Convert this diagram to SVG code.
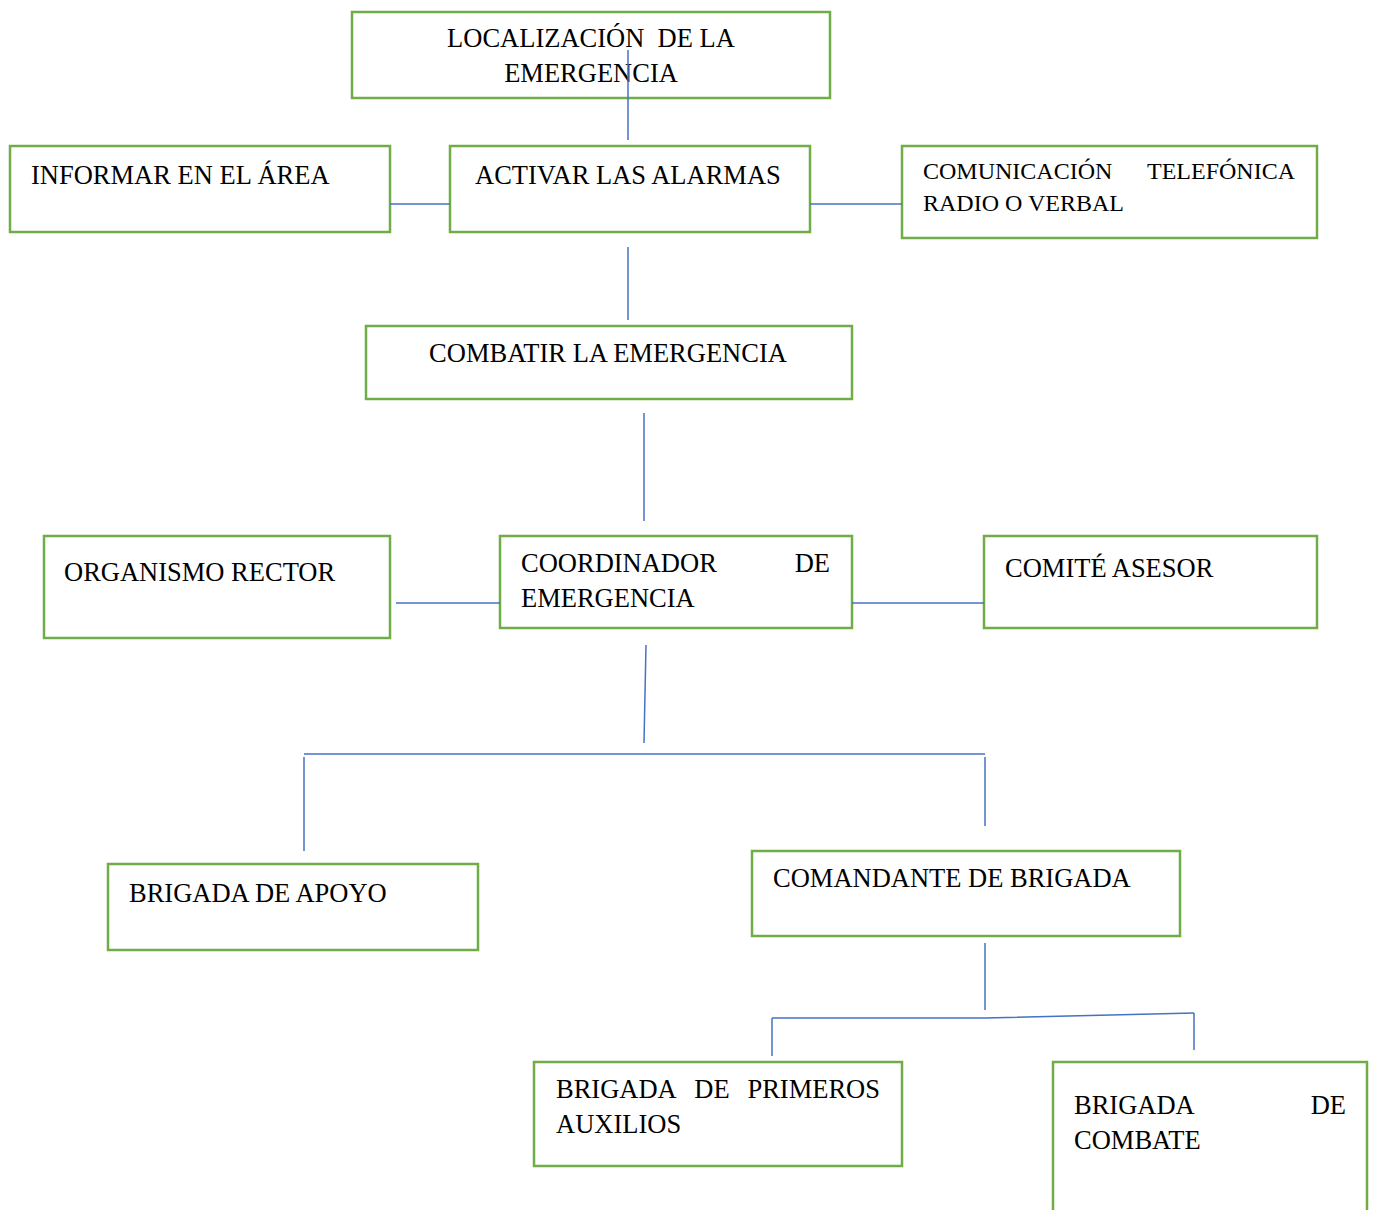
<svg xmlns="http://www.w3.org/2000/svg" width="1378" height="1210" viewBox="0 0 1378 1210">
  <style>
    .box { fill: #ffffff; stroke: #70AD47; stroke-width: 2.5; }
    .lbl { font-family: "Liberation Serif", "Times New Roman", serif; font-size: 26.5px; fill: #000000; }
    .sm { font-size: 24px; }
    .ln { stroke: #4472C4; stroke-width: 1.5; fill: none; }
  </style>
  <rect width="1378" height="1210" fill="#ffffff"/>

  <g id="n-localizacion">
    <rect class="box" x="352" y="12" width="478" height="86"/>
    <text class="lbl" x="591" y="47" text-anchor="middle" xml:space="preserve">LOCALIZACIÓN  DE LA</text>
    <text class="lbl" x="591" y="82" text-anchor="middle">EMERGENCIA</text>
  </g>

  <g id="n-informar">
    <rect class="box" x="10" y="146" width="380" height="86"/>
    <text class="lbl" x="31" y="184">INFORMAR EN EL ÁREA</text>
  </g>

  <g id="n-activar">
    <rect class="box" x="450" y="146" width="360" height="86"/>
    <text class="lbl" x="475" y="184">ACTIVAR LAS ALARMAS</text>
  </g>

  <g id="n-comunicacion">
    <rect class="box" x="902" y="146" width="415" height="92"/>
    <text class="lbl sm" x="923" y="179">COMUNICACIÓN</text>
    <text class="lbl sm" x="1295" y="179" text-anchor="end">TELEFÓNICA</text>
    <text class="lbl sm" x="923" y="211">RADIO O VERBAL</text>
  </g>

  <g id="n-combatir">
    <rect class="box" x="366" y="326" width="486" height="73"/>
    <text class="lbl" x="608" y="362" text-anchor="middle">COMBATIR LA EMERGENCIA</text>
  </g>

  <g id="n-organismo">
    <rect class="box" x="44" y="536" width="346" height="102"/>
    <text class="lbl" x="64" y="581">ORGANISMO RECTOR</text>
  </g>

  <g id="n-coordinador">
    <rect class="box" x="500" y="536" width="352" height="92"/>
    <text class="lbl" x="521" y="572">COORDINADOR</text>
    <text class="lbl" x="830" y="572" text-anchor="end">DE</text>
    <text class="lbl" x="521" y="607">EMERGENCIA</text>
  </g>

  <g id="n-comite">
    <rect class="box" x="984" y="536" width="333" height="92"/>
    <text class="lbl" x="1005" y="577">COMITÉ ASESOR</text>
  </g>

  <g id="n-apoyo">
    <rect class="box" x="108" y="864" width="370" height="86"/>
    <text class="lbl" x="129" y="902">BRIGADA DE APOYO</text>
  </g>

  <g id="n-comandante">
    <rect class="box" x="752" y="851" width="428" height="85"/>
    <text class="lbl" x="773" y="887">COMANDANTE DE BRIGADA</text>
  </g>

  <g id="n-primeros-auxilios">
    <rect class="box" x="534" y="1062" width="368" height="104"/>
    <text class="lbl" x="556" y="1098">BRIGADA</text>
    <text class="lbl" x="712" y="1098" text-anchor="middle">DE</text>
    <text class="lbl" x="880" y="1098" text-anchor="end">PRIMEROS</text>
    <text class="lbl" x="556" y="1133">AUXILIOS</text>
  </g>

  <g id="n-combate">
    <rect class="box" x="1053" y="1062" width="314" height="160"/>
    <text class="lbl" x="1074" y="1114">BRIGADA</text>
    <text class="lbl" x="1346" y="1114" text-anchor="end">DE</text>
    <text class="lbl" x="1074" y="1149">COMBATE</text>
  </g>

  <g id="connectors">
    <line class="ln" x1="628" y1="50" x2="628" y2="140"/>
    <line class="ln" x1="390" y1="204" x2="450" y2="204"/>
    <line class="ln" x1="810" y1="204" x2="902" y2="204"/>
    <line class="ln" x1="628" y1="247" x2="628" y2="320"/>
    <line class="ln" x1="644" y1="413" x2="644" y2="521"/>
    <line class="ln" x1="396" y1="603" x2="500" y2="603"/>
    <line class="ln" x1="852" y1="603" x2="984" y2="603"/>
    <line class="ln" x1="646" y1="645" x2="644" y2="743"/>
    <line class="ln" x1="304" y1="754" x2="985" y2="754"/>
    <line class="ln" x1="304" y1="757" x2="304" y2="851"/>
    <line class="ln" x1="985" y1="757" x2="985" y2="826"/>
    <line class="ln" x1="985" y1="943" x2="985" y2="1010"/>
    <polyline class="ln" points="772,1018 985,1018 1194,1013"/>
    <line class="ln" x1="772" y1="1018" x2="772" y2="1056"/>
    <line class="ln" x1="1194" y1="1013" x2="1194" y2="1050"/>
  </g>
</svg>
